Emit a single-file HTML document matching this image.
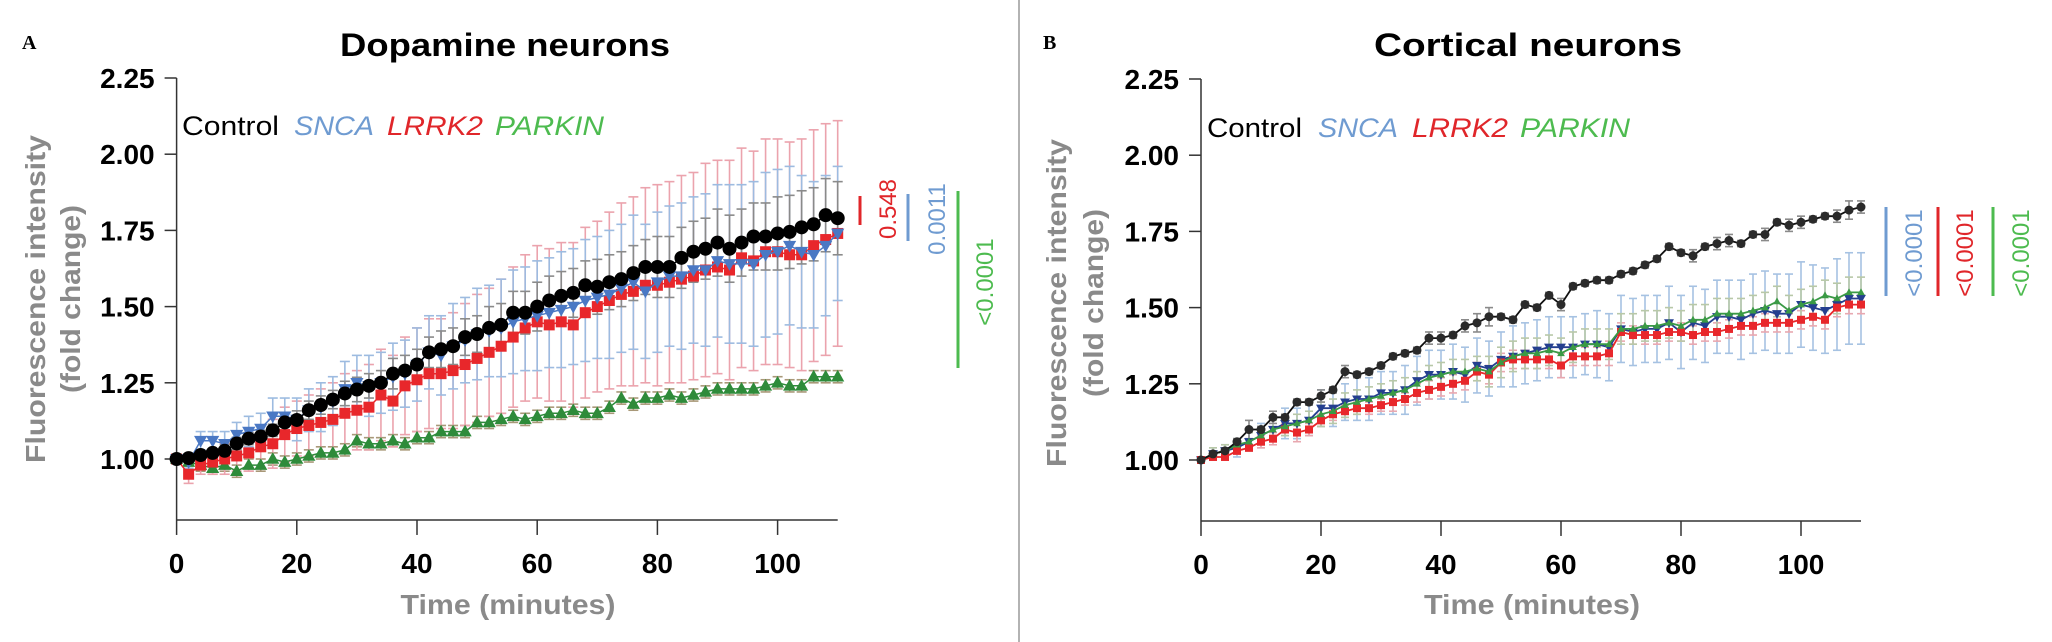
<!DOCTYPE html>
<html><head><meta charset="utf-8">
<style>
html,body{margin:0;padding:0;background:#fff;}
svg{display:block;font-family:"Liberation Sans",Arial,sans-serif;}
</style></head>
<body>
<svg id="fig" width="2052" height="642" viewBox="0 0 2052 642" xmlns="http://www.w3.org/2000/svg">
<rect x="0" y="0" width="2052" height="642" fill="#fff"/>
<line x1="1019" y1="0" x2="1019" y2="642" stroke="#9a9a9a" stroke-width="1.5"/>
<text x="22" y="49" font-family="Liberation Serif,serif" font-weight="bold" font-size="20">A</text>
<text x="1043" y="49" font-family="Liberation Serif,serif" font-weight="bold" font-size="20">B</text>
<text x="340" y="56" font-weight="bold" font-size="32" textLength="330" lengthAdjust="spacingAndGlyphs">Dopamine neurons</text>
<text x="1374" y="56" font-weight="bold" font-size="32" textLength="308" lengthAdjust="spacingAndGlyphs">Cortical neurons</text>

<g font-size="27">
<text x="182" y="135" fill="#000" textLength="97" lengthAdjust="spacingAndGlyphs">Control</text>
<text x="294" y="135" fill="#6f9bd1" font-style="italic" textLength="80" lengthAdjust="spacingAndGlyphs">SNCA</text>
<text x="387" y="135" fill="#e0262a" font-style="italic" textLength="96" lengthAdjust="spacingAndGlyphs">LRRK2</text>
<text x="495" y="135" fill="#4dbb4f" font-style="italic" textLength="109" lengthAdjust="spacingAndGlyphs">PARKIN</text>
</g>
<g font-size="27">
<text x="1207" y="137" fill="#000" textLength="95" lengthAdjust="spacingAndGlyphs">Control</text>
<text x="1318" y="137" fill="#6f9bd1" font-style="italic" textLength="80" lengthAdjust="spacingAndGlyphs">SNCA</text>
<text x="1412" y="137" fill="#e0262a" font-style="italic" textLength="96" lengthAdjust="spacingAndGlyphs">LRRK2</text>
<text x="1520" y="137" fill="#4dbb4f" font-style="italic" textLength="110" lengthAdjust="spacingAndGlyphs">PARKIN</text>
</g>

<g fill="#8a8a8a" font-weight="bold" font-size="28">
<text transform="translate(45,299) rotate(-90)" text-anchor="middle" textLength="328" lengthAdjust="spacingAndGlyphs">Fluorescence intensity</text>
<text transform="translate(80,299) rotate(-90)" text-anchor="middle" textLength="188" lengthAdjust="spacingAndGlyphs">(fold change)</text>
</g>
<g fill="#8a8a8a" font-weight="bold" font-size="28">
<text transform="translate(1066,303) rotate(-90)" text-anchor="middle" textLength="328" lengthAdjust="spacingAndGlyphs">Fluorescence intensity</text>
<text transform="translate(1103,303) rotate(-90)" text-anchor="middle" textLength="188" lengthAdjust="spacingAndGlyphs">(fold change)</text>
</g>
<text x="508" y="614" text-anchor="middle" fill="#8a8a8a" font-weight="bold" font-size="28" textLength="215" lengthAdjust="spacingAndGlyphs">Time (minutes)</text>
<text x="1532" y="614" text-anchor="middle" fill="#8a8a8a" font-weight="bold" font-size="28" textLength="216" lengthAdjust="spacingAndGlyphs">Time (minutes)</text>

<g font-size="24">
<line x1="860" y1="196" x2="860" y2="225" stroke="#e0262a" stroke-width="3"/>
<text transform="translate(896,209) rotate(-90)" text-anchor="middle" fill="#e0262a">0.548</text>
<line x1="908" y1="194" x2="908" y2="241" stroke="#6f9bd1" stroke-width="3"/>
<text transform="translate(945,219) rotate(-90)" text-anchor="middle" fill="#6f9bd1">0.0011</text>
<line x1="958" y1="191" x2="958" y2="368" stroke="#4dbb4f" stroke-width="3"/>
<text transform="translate(993,282) rotate(-90)" text-anchor="middle" fill="#4dbb4f">&lt;0.0001</text>
</g>
<g font-size="24">
<line x1="1886" y1="207" x2="1886" y2="296" stroke="#6f9bd1" stroke-width="3"/>
<text transform="translate(1922,253) rotate(-90)" text-anchor="middle" fill="#6f9bd1">&lt;0.0001</text>
<line x1="1938" y1="207" x2="1938" y2="296" stroke="#e0262a" stroke-width="3"/>
<text transform="translate(1973,253) rotate(-90)" text-anchor="middle" fill="#e0262a">&lt;0.0001</text>
<line x1="1993" y1="207" x2="1993" y2="296" stroke="#4dbb4f" stroke-width="3"/>
<text transform="translate(2029,253) rotate(-90)" text-anchor="middle" fill="#4dbb4f">&lt;0.0001</text>
</g>
<g id="plots"></g>
</svg>
<script>
const timePts = [0,2,4,6,8,10,12,14,16,18,20,22,24,26,28,30,32,34,36,38,40,42,44,46,48,50,52,54,56,58,60,62,64,66,68,70,72,74,76,78,80,82,84,86,88,90,92,94,96,98,100,102,104,106,108,110];
const xTicks = [0,20,40,60,80,100];
const yTicks = [1.00,1.25,1.50,1.75,2.00,2.25];
const yTickLabels = ["1.00","1.25","1.50","1.75","2.00","2.25"];

const ctrlA = [1.00,1.003,1.013,1.02,1.027,1.051,1.067,1.074,1.094,1.12,1.128,1.16,1.177,1.195,1.215,1.228,1.24,1.25,1.28,1.29,1.31,1.35,1.36,1.37,1.40,1.41,1.43,1.44,1.48,1.48,1.50,1.52,1.535,1.545,1.57,1.565,1.58,1.59,1.61,1.63,1.63,1.63,1.66,1.68,1.69,1.71,1.69,1.71,1.73,1.73,1.74,1.745,1.76,1.77,1.80,1.79];
const ctrlAErr = [0.01,0.01,0.01,0.01,0.02,0.02,0.02,0.02,0.02,0.03,0.03,0.03,0.03,0.03,0.04,0.04,0.04,0.04,0.05,0.05,0.05,0.05,0.06,0.06,0.06,0.06,0.07,0.07,0.07,0.07,0.08,0.08,0.08,0.08,0.08,0.09,0.09,0.09,0.09,0.09,0.1,0.1,0.1,0.1,0.1,0.11,0.11,0.11,0.11,0.11,0.12,0.12,0.12,0.12,0.12,0.12];
const sncaA = [1.0,0.99,1.06,1.06,1.05,1.08,1.09,1.10,1.14,1.14,1.13,1.16,1.17,1.19,1.23,1.25,1.24,1.25,1.27,1.28,1.31,1.35,1.34,1.37,1.39,1.41,1.42,1.43,1.45,1.46,1.47,1.48,1.49,1.50,1.52,1.53,1.54,1.56,1.58,1.55,1.58,1.60,1.60,1.62,1.62,1.65,1.64,1.64,1.64,1.67,1.68,1.70,1.68,1.67,1.70,1.74];
const sncaAErr = [0.01,0.02,0.03,0.03,0.04,0.04,0.05,0.05,0.06,0.06,0.07,0.07,0.08,0.08,0.09,0.09,0.1,0.1,0.11,0.11,0.12,0.12,0.13,0.14,0.14,0.15,0.15,0.16,0.17,0.17,0.18,0.18,0.19,0.19,0.2,0.2,0.21,0.21,0.22,0.22,0.23,0.23,0.24,0.24,0.25,0.25,0.26,0.26,0.27,0.27,0.27,0.26,0.25,0.24,0.23,0.22];
const lrrk2A = [1.0,0.95,0.98,0.99,1.0,1.01,1.02,1.04,1.05,1.08,1.10,1.11,1.12,1.13,1.15,1.16,1.17,1.21,1.19,1.24,1.26,1.28,1.28,1.29,1.31,1.33,1.35,1.37,1.40,1.43,1.45,1.44,1.45,1.44,1.48,1.50,1.52,1.54,1.55,1.57,1.57,1.58,1.59,1.60,1.62,1.63,1.62,1.66,1.65,1.68,1.68,1.67,1.67,1.70,1.72,1.74];
const lrrk2AErr = [0.01,0.03,0.03,0.04,0.05,0.05,0.06,0.07,0.08,0.09,0.09,0.1,0.11,0.12,0.13,0.13,0.14,0.15,0.15,0.16,0.17,0.18,0.18,0.19,0.2,0.21,0.21,0.22,0.23,0.24,0.25,0.25,0.26,0.27,0.28,0.28,0.29,0.3,0.31,0.32,0.33,0.33,0.34,0.34,0.35,0.35,0.36,0.36,0.36,0.37,0.37,0.37,0.38,0.38,0.38,0.37];
const parkinA = [1.0,0.99,0.98,0.97,0.98,0.96,0.98,0.98,1.0,0.99,1.0,1.01,1.02,1.02,1.03,1.06,1.05,1.05,1.06,1.05,1.07,1.07,1.09,1.09,1.09,1.12,1.12,1.13,1.14,1.13,1.14,1.15,1.15,1.16,1.15,1.15,1.17,1.20,1.18,1.20,1.20,1.21,1.20,1.21,1.22,1.23,1.23,1.23,1.23,1.24,1.25,1.24,1.24,1.27,1.27,1.27];
const parkinAErr = [0.01,0.01,0.02,0.02,0.02,0.02,0.02,0.02,0.02,0.02,0.02,0.02,0.02,0.02,0.02,0.02,0.02,0.02,0.02,0.02,0.02,0.02,0.02,0.02,0.02,0.02,0.02,0.02,0.02,0.02,0.02,0.02,0.02,0.02,0.02,0.02,0.02,0.02,0.02,0.02,0.02,0.02,0.02,0.02,0.02,0.02,0.02,0.02,0.02,0.02,0.02,0.02,0.02,0.02,0.02,0.02];

const ctrlB = [1.0,1.02,1.03,1.06,1.10,1.10,1.14,1.14,1.19,1.19,1.21,1.23,1.29,1.28,1.29,1.31,1.34,1.35,1.36,1.40,1.40,1.41,1.44,1.45,1.47,1.47,1.46,1.51,1.50,1.54,1.51,1.57,1.58,1.59,1.59,1.61,1.62,1.64,1.66,1.70,1.68,1.67,1.70,1.71,1.72,1.71,1.74,1.74,1.78,1.77,1.78,1.79,1.80,1.80,1.82,1.83];
const ctrlBErr = [0.01,0.01,0.01,0.01,0.03,0.01,0.02,0.01,0.01,0.01,0.02,0.01,0.02,0.01,0.01,0.01,0.01,0.01,0.01,0.02,0.02,0.01,0.02,0.03,0.03,0.01,0.01,0.01,0.01,0.01,0.02,0.01,0.01,0.01,0.01,0.01,0.01,0.01,0.01,0.01,0.01,0.02,0.01,0.02,0.02,0.01,0.01,0.02,0.01,0.02,0.02,0.01,0.01,0.02,0.03,0.02];
const sncaB = [1.0,1.02,1.03,1.04,1.06,1.08,1.10,1.12,1.12,1.13,1.17,1.17,1.19,1.20,1.20,1.22,1.22,1.23,1.26,1.28,1.28,1.29,1.28,1.31,1.30,1.33,1.34,1.35,1.36,1.37,1.37,1.37,1.38,1.38,1.37,1.43,1.42,1.43,1.43,1.45,1.42,1.45,1.44,1.47,1.47,1.46,1.48,1.49,1.48,1.48,1.51,1.50,1.49,1.51,1.53,1.53];
const sncaBErr = [0.01,0.02,0.02,0.03,0.03,0.04,0.04,0.05,0.05,0.05,0.06,0.06,0.06,0.07,0.07,0.07,0.07,0.08,0.08,0.08,0.08,0.09,0.09,0.09,0.09,0.09,0.1,0.1,0.1,0.1,0.1,0.1,0.1,0.11,0.11,0.11,0.11,0.11,0.11,0.12,0.12,0.12,0.12,0.12,0.12,0.13,0.13,0.13,0.13,0.13,0.14,0.14,0.14,0.15,0.15,0.15];
const lrrk2B = [1.0,1.01,1.01,1.03,1.04,1.06,1.07,1.10,1.09,1.10,1.13,1.15,1.16,1.17,1.17,1.18,1.19,1.20,1.22,1.23,1.24,1.25,1.26,1.29,1.28,1.32,1.33,1.33,1.33,1.33,1.31,1.34,1.34,1.34,1.35,1.42,1.41,1.41,1.41,1.42,1.42,1.41,1.42,1.42,1.43,1.44,1.44,1.45,1.45,1.45,1.46,1.47,1.46,1.50,1.51,1.51];
const lrrk2BErr = [0.01,0.01,0.01,0.01,0.01,0.02,0.02,0.02,0.03,0.02,0.02,0.02,0.02,0.02,0.02,0.02,0.03,0.02,0.03,0.03,0.03,0.03,0.03,0.03,0.03,0.03,0.03,0.03,0.03,0.03,0.04,0.03,0.03,0.03,0.04,0.03,0.03,0.03,0.03,0.03,0.03,0.03,0.03,0.03,0.03,0.03,0.03,0.03,0.03,0.03,0.03,0.03,0.03,0.03,0.03,0.03];
const parkinB = [1.0,1.02,1.03,1.05,1.06,1.08,1.10,1.11,1.12,1.13,1.15,1.16,1.18,1.19,1.20,1.21,1.22,1.23,1.25,1.27,1.28,1.29,1.29,1.30,1.29,1.32,1.34,1.35,1.35,1.36,1.35,1.37,1.38,1.38,1.38,1.43,1.43,1.44,1.44,1.45,1.44,1.46,1.46,1.48,1.48,1.48,1.49,1.50,1.52,1.49,1.51,1.52,1.54,1.53,1.55,1.55];
const parkinBErr = [0.01,0.02,0.02,0.02,0.03,0.03,0.03,0.03,0.03,0.03,0.04,0.04,0.04,0.04,0.04,0.04,0.04,0.04,0.04,0.04,0.04,0.04,0.04,0.04,0.05,0.05,0.05,0.05,0.05,0.05,0.05,0.05,0.05,0.05,0.05,0.05,0.05,0.05,0.05,0.05,0.05,0.05,0.05,0.05,0.05,0.05,0.05,0.05,0.05,0.05,0.05,0.05,0.05,0.05,0.05,0.05];

const NS = "http://www.w3.org/2000/svg";
const root = document.getElementById("plots");
function mk(tag, attrs, parent){
  const e = document.createElementNS(NS, tag);
  for (const k in attrs) e.setAttribute(k, attrs[k]);
  parent.appendChild(e);
  return e;
}
function marker(g, shape, cx, cy, s, fill){
  let e;
  if (shape==="circle") e = mk("circle",{cx:cx,cy:cy,r:s,fill:fill},g);
  else if (shape==="square") e = mk("rect",{x:cx-s,y:cy-s,width:2*s,height:2*s,fill:fill},g);
  else if (shape==="tri-up") e = mk("polygon",{points:`${cx},${cy-s*1.15} ${cx-s*1.1},${cy+s*0.8} ${cx+s*1.1},${cy+s*0.8}`,fill:fill},g);
  else e = mk("polygon",{points:`${cx},${cy+s*1.15} ${cx-s*1.1},${cy-s*0.8} ${cx+s*1.1},${cy-s*0.8}`,fill:fill},g);
  return e;
}
function panel(p){
  const g = mk("g",{},root);
  
  
  const xs = t => p.x0 + t*p.px;
  const ys = v => p.y1 - (v-1)*p.py;
  const ax = mk("g",{stroke:"#333","stroke-width":1.5},g);
  
  
  mk("line",{x1:p.x0,y1:ys(2.25),x2:p.x0,y2:ys(0.8)},ax);
  mk("line",{x1:p.x0,y1:ys(0.8),x2:xs(110),y2:ys(0.8)},ax);
  yTicks.forEach((v,i)=>{
    mk("line",{x1:p.x0-12,y1:ys(v),x2:p.x0,y2:ys(v)},ax);
    const t = mk("text",{x:p.x0-22,y:ys(v)+10,"text-anchor":"end","font-size":28,"font-weight":"bold",fill:"#000",stroke:"none"},g);
    t.textContent = yTickLabels[i];
    
    
  });
  xTicks.forEach(v=>{
    mk("line",{x1:xs(v),y1:ys(0.8),x2:xs(v),y2:ys(0.8)+15},ax);
    const t = mk("text",{x:xs(v),y:ys(0.8)+53,"text-anchor":"middle","font-size":28,"font-weight":"bold",fill:"#000"},g);
    t.textContent = String(v);
    
    
  });
  p.series.forEach(s=>{
    const eg = mk("g",{stroke:s.errColor,"stroke-width":1.6,fill:"none"},g);
    
    
    const n = Math.min(timePts.length, s.vals.length, s.err.length);
    for (let i=0;i<n;i++){
      const x = xs(timePts[i]), yt = ys(s.vals[i]+s.err[i]), yb = ys(s.vals[i]-s.err[i]);
      mk("line",{x1:x,y1:yt,x2:x,y2:yb},eg);
      mk("line",{x1:x-p.cap,y1:yt,x2:x+p.cap,y2:yt},eg);
      mk("line",{x1:x-p.cap,y1:yb,x2:x+p.cap,y2:yb},eg);
    }
  });
  p.series.forEach(s=>{
    const n = Math.min(timePts.length, s.vals.length);
    let d = "";
    for (let i=0;i<n;i++) d += (i?"L":"M")+xs(timePts[i]).toFixed(1)+","+ys(s.vals[i]).toFixed(1);
    const ln = mk("path",{d:d,stroke:s.lineColor,"stroke-width":p.lw,fill:"none"},g);
    
    
    const mg = mk("g",{},g);
    
    
    for (let i=0;i<n;i++){
      const m = marker(mg, s.shape, xs(timePts[i]), ys(s.vals[i]), s.size, s.color);
      
      
    }
  });
}
panel({name:"panel-a-chart", x0:176.6, px:6.01, y1:459, py:304.8, cap:5, lw:1.5, series:[
  {key:"parkin", vals:parkinA, err:parkinAErr, color:"#2e8b3a", lineColor:"#2e8b3a", errColor:"#a89878", shape:"tri-up", size:6},
  {key:"lrrk2", vals:lrrk2A, err:lrrk2AErr, color:"#e8272b", lineColor:"#e8272b", errColor:"#eba3ad", shape:"square", size:5.5},
  {key:"snca", vals:sncaA, err:sncaAErr, color:"#4a78c4", lineColor:"#4a78c4", errColor:"#9dbbe0", shape:"tri-down", size:6},
  {key:"control", vals:ctrlA, err:ctrlAErr, color:"#000", lineColor:"#000", errColor:"#8a8a8a", shape:"circle", size:7}
]});
panel({name:"panel-b-chart", x0:1201, px:6.0, y1:460, py:304.8, cap:4, lw:1.8, series:[
  {key:"snca", vals:sncaB, err:sncaBErr, color:"#243f8f", lineColor:"#243f8f", errColor:"#a6c2e2", shape:"tri-down", size:4.5},
  {key:"lrrk2", vals:lrrk2B, err:lrrk2BErr, color:"#e8272b", lineColor:"#e8272b", errColor:"#e8a8b0", shape:"square", size:4},
  {key:"parkin", vals:parkinB, err:parkinBErr, color:"#3a9a45", lineColor:"#3a9a45", errColor:"#b8c8a8", shape:"tri-up", size:3.5},
  {key:"control", vals:ctrlB, err:ctrlBErr, color:"#2a2a2a", lineColor:"#111", errColor:"#8a8a8a", shape:"circle", size:4.5}
]});
</script>
</body></html>
